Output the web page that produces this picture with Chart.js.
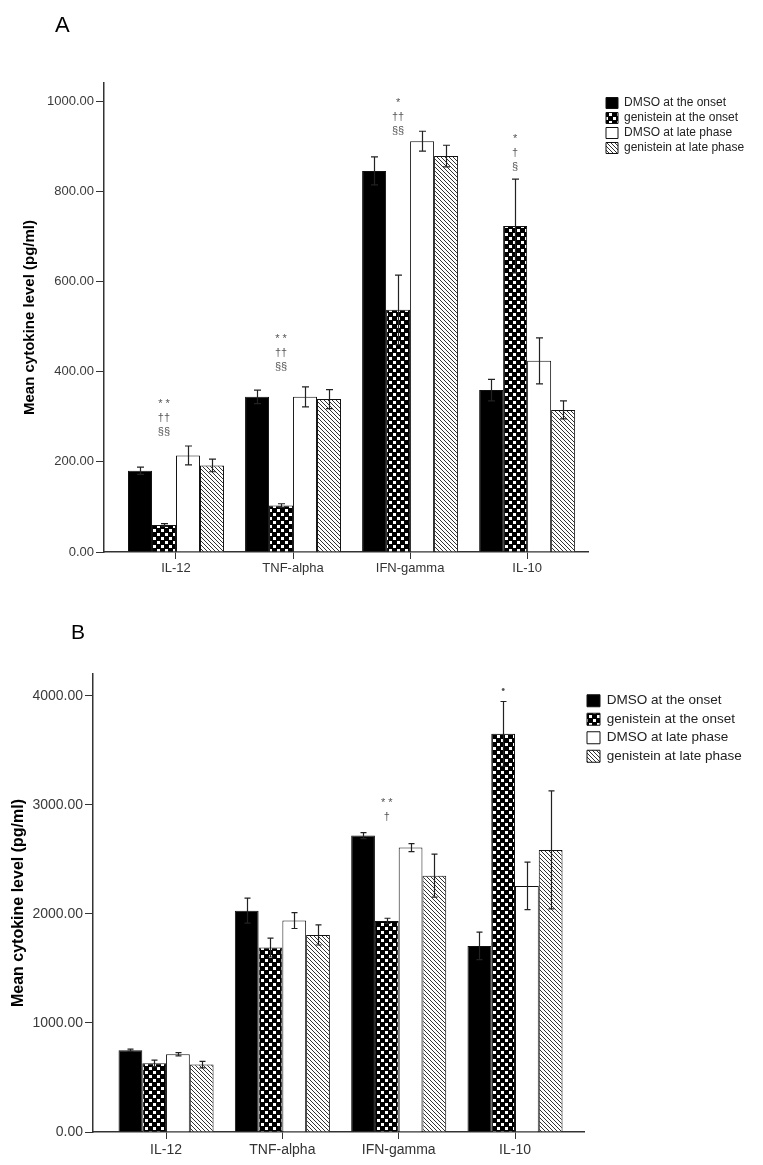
<!DOCTYPE html>
<html>
<head>
<meta charset="utf-8">
<script src="https://cdn.jsdelivr.net/npm/chart.js@4.4.0/dist/chart.umd.min.js"></script>
<style>
  body { margin: 0; background: #fff; }
  #wrap { position: relative; width: 763px; height: 1165px; }
  canvas { position: absolute; left: 0; }
  .panel { position: absolute; z-index: 2; font-family: 'Liberation Sans', Arial, sans-serif; line-height: 1; color: #000; }
</style>
</head>
<body>
<div id="wrap">
  <canvas id="chartA" width="763" height="590" style="top:0"></canvas>
  <canvas id="chartB" width="763" height="575" style="top:590px"></canvas>
  <div class="panel" style="left:55px;top:14px;font-size:22px">A</div>
  <div class="panel" style="left:71px;top:621px;font-size:21px">B</div>
</div>
<script>
const categories = ['IL-12', 'TNF-alpha', 'IFN-gamma', 'IL-10'];
const seriesNames = ['DMSO at the onset', 'genistein at the onset', 'DMSO at late phase', 'genistein at late phase'];

// panel A, mean (pg/ml) and error
const aDmsoOnset = [180, 344, 845, 359];
const aGenOnset  = [60, 103, 537, 723];
const aDmsoLate  = [214, 344, 911, 424];
const aGenLate   = [192, 339, 878, 315];
const aErrDmsoOnset = [8, 15, 31, 24];
const aErrGenOnset  = [3, 4, 77, 104];
const aErrDmsoLate  = [21, 22, 22, 51];
const aErrGenLate   = [14, 21, 24, 20];
const aTicks = [0, 200, 400, 600, 800, 1000];

// panel B
const bDmsoOnset = [750, 2030, 2718, 1706];
const bGenOnset  = [630, 1691, 1936, 3651];
const bDmsoLate  = [713, 1939, 2608, 2257];
const bGenLate   = [618, 1807, 2351, 2587];
const bErrDmsoOnset = [10, 114, 28, 126];
const bErrGenOnset  = [30, 86, 24, 297];
const bErrDmsoLate  = [14, 73, 37, 217];
const bErrGenLate   = [30, 92, 197, 541];
const bTicks = [0, 1000, 2000, 3000, 4000];

// significance marks above the genistein-at-onset bar
const aSigCats = [0, 1, 2, 3];
const aSigText = [['* *', '††', '§§'], ['* *', '††', '§§'], ['*', '††', '§§'], ['*', '†', '§']];
const aSigAt = [328, 472, 996, 916];
const bSigCats = [2, 3];
const bSigText = [['* *', '†'], ['•']];
const bSigAt = [3020, 4050];

const FONT = "'Liberation Sans', Arial, sans-serif";
Chart.defaults.font.family = FONT;

function checkerPattern() {
  const c = document.createElement('canvas');
  c.width = 8; c.height = 8;
  const g = c.getContext('2d');
  g.fillStyle = '#000'; g.fillRect(0, 0, 8, 8);
  g.fillStyle = '#fff'; g.fillRect(1, 1, 3, 3); g.fillRect(5, 5, 3, 3);
  return g.createPattern(c, 'repeat');
}
function hatchPattern() {
  const n = 4;
  const c = document.createElement('canvas');
  c.width = n; c.height = n;
  const g = c.getContext('2d');
  g.fillStyle = '#fff'; g.fillRect(0, 0, n, n);
  g.strokeStyle = '#333'; g.lineWidth = 1;
  g.beginPath();
  g.moveTo(0, 0); g.lineTo(n, n);
  g.moveTo(-1, n - 1); g.lineTo(1, n + 1);
  g.moveTo(n - 1, -1); g.lineTo(n + 1, 1);
  g.stroke();
  return g.createPattern(c, 'repeat');
}
const fills = ['#000', checkerPattern(), '#fff', hatchPattern()];

function makeDatasets(vals, errs, catPct) {
  return vals.map((v, k) => ({
    label: seriesNames[k],
    data: v.map((y, i) => ({ x: i, y: y })),
    errors: errs[k],
    backgroundColor: fills[k],
    borderColor: '#111',
    borderWidth: 1,
    categoryPercentage: catPct,
    barPercentage: 1
  }));
}

// the legend keeps a fixed width so the plot ends where the original does
const legendPlace = {
  id: 'legendPlace',
  beforeLayout(chart, args, opts) {
    const lg = chart.legend;
    if (lg && !lg.$fixed) {
      const fit = lg.fit;
      lg.fit = function () { fit.call(this); this.width = opts.width; };
      lg.$fixed = true;
    }
  },
  afterLayout(chart, args, opts) {
    chart.legend.left = opts.left;
    chart.legend.top = opts.top;
  }
};

const errorBars = {
  id: 'errorBars',
  afterDatasetsDraw(chart, args, opts) {
    const ctx = chart.ctx, y = chart.scales.y;
    ctx.save();
    ctx.strokeStyle = opts.color;
    ctx.lineWidth = opts.width;
    chart.data.datasets.forEach((ds, di) => {
      chart.getDatasetMeta(di).data.forEach((bar, i) => {
        const v = ds.data[i].y, e = ds.errors[i];
        const x = Math.round(bar.x) + 0.5;
        const t = y.getPixelForValue(v + e), b = y.getPixelForValue(v - e);
        ctx.beginPath();
        ctx.moveTo(x, t); ctx.lineTo(x, b);
        ctx.moveTo(x - opts.cap, t); ctx.lineTo(x + opts.cap, t);
        ctx.moveTo(x - opts.cap, b); ctx.lineTo(x + opts.cap, b);
        ctx.stroke();
      });
    });
    ctx.restore();
  }
};

const sigMarks = {
  id: 'sigMarks',
  afterDatasetsDraw(chart, args, opts) {
    const ctx = chart.ctx, y = chart.scales.y;
    const meta = chart.getDatasetMeta(1);
    ctx.save();
    ctx.font = opts.size + 'px ' + FONT;
    ctx.fillStyle = opts.color;
    ctx.textAlign = 'center';
    ctx.textBaseline = 'middle';
    opts.cats.forEach((c, k) => {
      const x = meta.data[c].x;
      let py = y.getPixelForValue(opts.at[k]);
      opts.lines[k].forEach(t => { ctx.fillText(t, x, py); py += opts.gap; });
    });
    ctx.restore();
  }
};

function buildChart(id, o) {
  return new Chart(document.getElementById(id), {
    type: 'bar',
    data: { datasets: makeDatasets(o.values, o.errors, o.catPct) },
    options: {
      responsive: false,
      animation: false,
      layout: { padding: { top: o.top, bottom: o.bottom, left: 0, right: 0 } },
      scales: {
        x: {
          type: 'linear',
          min: o.xMin, max: o.xMax,
          offset: false,
          ticks: {
            stepSize: 1, includeBounds: false, autoSkip: false, maxRotation: 0,
            callback: v => categories[v] ?? '',
            color: '#333', font: { size: o.xFont }, padding: o.xPad
          },
          grid: { offset: false, drawOnChartArea: false, tickLength: 7, color: '#333', lineWidth: 1 },
          border: { color: '#333', width: 1.5 },
          afterFit: s => { s.height = 30; }
        },
        y: {
          min: 0, max: o.yMax,
          afterBuildTicks: s => { s.ticks = o.ticks.map(v => ({ value: v })); },
          ticks: { callback: v => Number(v).toFixed(2), color: '#3a3a3a', font: { size: o.yFont }, padding: 2 },
          grid: { drawOnChartArea: false, tickLength: 8, color: '#333', lineWidth: 1 },
          border: { color: '#333', width: 1.5 },
          title: {
            display: true, text: 'Mean cytokine level (pg/ml)', color: '#000',
            font: { size: o.titleFont, weight: 'bold' }, padding: { top: o.titlePad, bottom: 0 }
          },
          afterFit: s => { s.width = o.axisLeft; }
        }
      },
      plugins: {
        legend: {
          position: 'right', align: 'start',
          labels: {
            color: '#222', font: { size: o.legFont },
            boxWidth: o.box, boxHeight: o.box - 1, padding: o.legPad
          }
        },
        tooltip: { enabled: false },
        legendPlace: { width: 763 - o.axisRight, left: o.legLeft, top: o.legTop },
        errorBars: { color: '#222', width: 1.2, cap: o.cap },
        sigMarks: { cats: o.sigCats, lines: o.sigText, at: o.sigAt, size: 11, gap: 14, color: '#555' }
      }
    },
    plugins: [legendPlace, errorBars, sigMarks]
  });
}

buildChart('chartA', {
  values: [aDmsoOnset, aGenOnset, aDmsoLate, aGenLate],
  errors: [aErrDmsoOnset, aErrGenOnset, aErrDmsoLate, aErrGenLate],
  ticks: aTicks, yMax: 1040,
  catPct: 0.82, xMin: -0.615, xMax: 3.52,
  top: 83, bottom: 8, axisLeft: 104, axisRight: 588,
  xFont: 13, xPad: 2, yFont: 13, titleFont: 15, titlePad: 21,
  legFont: 12, box: 12, legPad: 3, legLeft: 603, legTop: 94, cap: 3.5,
  sigCats: aSigCats, sigText: aSigText, sigAt: aSigAt
});

buildChart('chartB', {
  values: [bDmsoOnset, bGenOnset, bDmsoLate, bGenLate],
  errors: [bErrDmsoOnset, bErrGenOnset, bErrDmsoLate, bErrGenLate],
  ticks: bTicks, yMax: 4200,
  catPct: 0.817, xMin: -0.628, xMax: 3.593,
  top: 84, bottom: 3, axisLeft: 93, axisRight: 584,
  xFont: 14, xPad: 3, yFont: 14, titleFont: 16, titlePad: 9,
  legFont: 13.5, box: 13, legPad: 5, legLeft: 582, legTop: 99, cap: 3,
  sigCats: bSigCats, sigText: bSigText, sigAt: bSigAt
});
</script>
</body>
</html>
